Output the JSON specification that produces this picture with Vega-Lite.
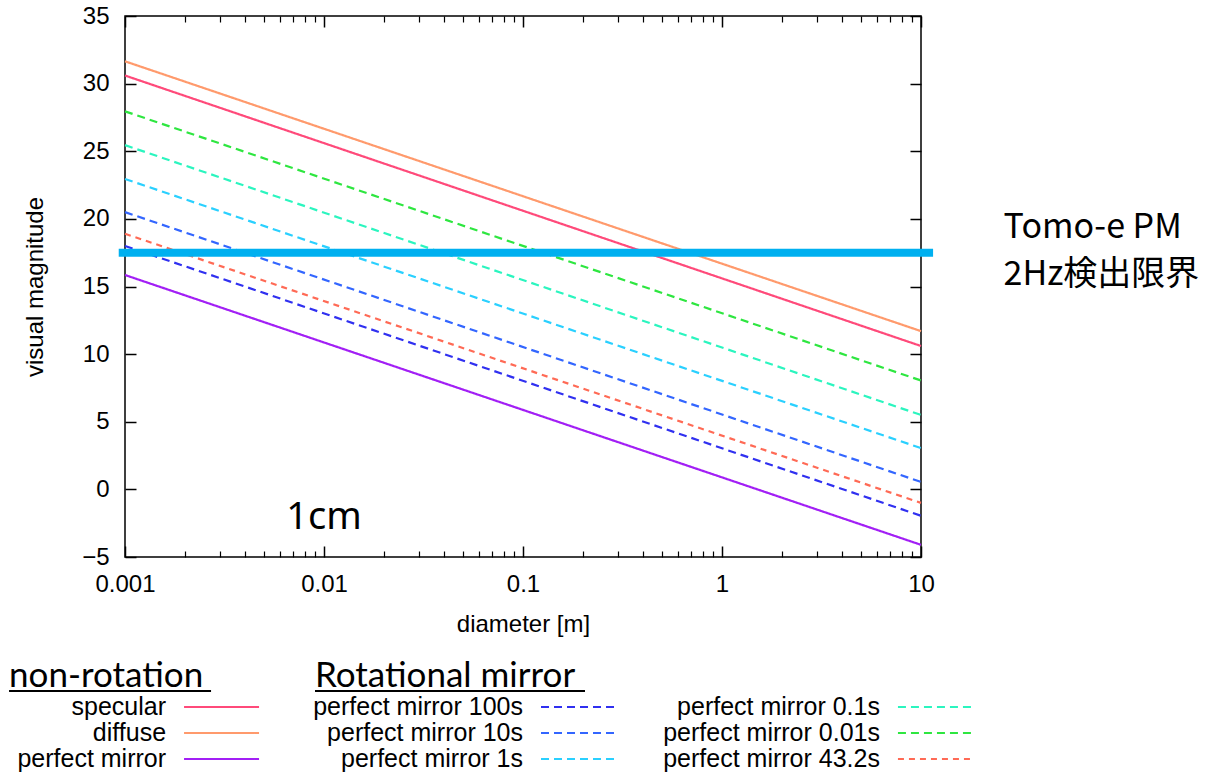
{
  "$schema": "https://vega.github.io/schema/vega-lite/v6.json",
  "autosize": {"type": "pad"},
  "padding": {"left": 8, "top": 3, "right": 0, "bottom": 0},
  "background": "white",
  "bounds": "flush",
  "spacing": 137,
  "config": {
    "font": "Liberation Sans",
    "view": {"stroke": "black", "strokeWidth": 1.5},
    "axis": {"labelColor": "black", "titleColor": "black", "tickColor": "black", "titleFontWeight": "normal", "grid": false, "domain": false}
  },
  "datasets": {
    "lines": [
      {"series": "specular", "d": 0.001, "mag": 30.6},
      {"series": "specular", "d": 10, "mag": 10.6},
      {"series": "diffuse", "d": 0.001, "mag": 31.65},
      {"series": "diffuse", "d": 10, "mag": 11.7},
      {"series": "perfect mirror", "d": 0.001, "mag": 15.85},
      {"series": "perfect mirror", "d": 10, "mag": -4.1},
      {"series": "perfect mirror 100s", "d": 0.001, "mag": 18.0},
      {"series": "perfect mirror 100s", "d": 10, "mag": -1.95},
      {"series": "perfect mirror 10s", "d": 0.001, "mag": 20.5},
      {"series": "perfect mirror 10s", "d": 10, "mag": 0.55},
      {"series": "perfect mirror 1s", "d": 0.001, "mag": 22.95},
      {"series": "perfect mirror 1s", "d": 10, "mag": 3.05},
      {"series": "perfect mirror 0.1s", "d": 0.001, "mag": 25.45},
      {"series": "perfect mirror 0.1s", "d": 10, "mag": 5.5},
      {"series": "perfect mirror 0.01s", "d": 0.001, "mag": 27.95},
      {"series": "perfect mirror 0.01s", "d": 10, "mag": 8.05},
      {"series": "perfect mirror 43.2s", "d": 0.001, "mag": 18.9},
      {"series": "perfect mirror 43.2s", "d": 10, "mag": -1.0}
    ],
    "legendItems": [
      {"col": "c1", "row": "r1", "series": "specular"},
      {"col": "c1", "row": "r2", "series": "diffuse"},
      {"col": "c1", "row": "r3", "series": "perfect mirror"},
      {"col": "c2", "row": "r1", "series": "perfect mirror 100s"},
      {"col": "c2", "row": "r2", "series": "perfect mirror 10s"},
      {"col": "c2", "row": "r3", "series": "perfect mirror 1s"},
      {"col": "c3", "row": "r1", "series": "perfect mirror 0.1s"},
      {"col": "c3", "row": "r2", "series": "perfect mirror 0.01s"},
      {"col": "c3", "row": "r3", "series": "perfect mirror 43.2s"}
    ]
  },
  "vconcat": [
    {
      "width": 796,
      "height": 541,
      "resolve": {"axis": {"x": "independent", "y": "independent"}},
      "layer": [
        {
          "data": {"name": "lines"},
          "mark": {"type": "line", "strokeWidth": 2.2},
          "encoding": {
            "x": {"field": "d", "type": "quantitative", "scale": {"type": "log", "domain": [0.001, 10], "nice": false},
              "axis": {"orient": "bottom", "values": [0.001, 0.01, 0.1, 1, 10], "ticks": false, "labelFontSize": 24, "labelPadding": 15, "labelFlush": false, "labelExpr": "datum.value >= 1 ? format(datum.value, 'd') : format(datum.value, '~g')", "title": "diameter [m]", "titleFontSize": 24, "titlePadding": 16}},
            "y": {"field": "mag", "type": "quantitative", "scale": {"domain": [-5, 35], "nice": false, "zero": false},
              "axis": {"orient": "left", "values": [-5, 0, 5, 10, 15, 20, 25, 30, 35], "ticks": false, "labelFontSize": 24, "labelPadding": 16, "title": "visual magnitude", "titleFontSize": 24, "titlePadding": 34}},
            "color": {"field": "series", "type": "nominal", "legend": null,
              "scale": {"domain": ["specular", "diffuse", "perfect mirror", "perfect mirror 100s", "perfect mirror 10s", "perfect mirror 1s", "perfect mirror 0.1s", "perfect mirror 0.01s", "perfect mirror 43.2s"],
                "range": ["#ff4a7a", "#ff9a6c", "#a21ff5", "#3030f0", "#3366ff", "#2ad0ff", "#2bf5bf", "#2ee640", "#ff6a55"]}},
            "strokeDash": {"field": "series", "type": "nominal", "legend": null,
              "scale": {"domain": ["specular", "diffuse", "perfect mirror", "perfect mirror 100s", "perfect mirror 10s", "perfect mirror 1s", "perfect mirror 0.1s", "perfect mirror 0.01s", "perfect mirror 43.2s"],
                "range": [[1, 0], [1, 0], [1, 0], [8, 5], [8, 5], [8, 5], [8, 5], [8, 5], [6, 5]]}}
          }
        },
        {
          "data": {"name": "lines"},
          "mark": {"type": "point", "opacity": 0},
          "encoding": {
            "x": {"field": "d", "type": "quantitative", "scale": {"type": "log", "domain": [0.001, 10], "nice": false},
              "axis": {"orient": "bottom", "values": [0.001, 0.01, 0.1, 1, 10], "labels": false, "tickSize": -11, "tickWidth": 1.5, "title": null}},
            "y": {"field": "mag", "type": "quantitative", "scale": {"domain": [-5, 35], "nice": false, "zero": false},
              "axis": {"orient": "left", "values": [-5, 0, 5, 10, 15, 20, 25, 30, 35], "labels": false, "tickSize": -11, "tickWidth": 1.5, "title": null}}
          }
        },
        {
          "data": {"name": "lines"},
          "mark": {"type": "point", "opacity": 0},
          "encoding": {
            "x": {"field": "d", "type": "quantitative", "scale": {"type": "log", "domain": [0.001, 10], "nice": false},
              "axis": {"orient": "top", "values": [0.001, 0.01, 0.1, 1, 10], "labels": false, "tickSize": -11, "tickWidth": 1.5, "title": null}},
            "y": {"field": "mag", "type": "quantitative", "scale": {"domain": [-5, 35], "nice": false, "zero": false},
              "axis": {"orient": "right", "values": [-5, 0, 5, 10, 15, 20, 25, 30, 35], "labels": false, "tickSize": -11, "tickWidth": 1.5, "title": null}}
          }
        },
        {
          "data": {"name": "lines"},
          "mark": {"type": "point", "opacity": 0},
          "encoding": {
            "x": {"field": "d", "type": "quantitative", "scale": {"type": "log", "domain": [0.001, 10], "nice": false},
              "axis": {"orient": "bottom", "values": [0.002, 0.003, 0.004, 0.005, 0.006, 0.007, 0.008, 0.009, 0.02, 0.03, 0.04, 0.05, 0.06, 0.07, 0.08, 0.09, 0.2, 0.3, 0.4, 0.5, 0.6, 0.7, 0.8, 0.9, 2, 3, 4, 5, 6, 7, 8, 9], "labels": false, "tickSize": -6, "tickWidth": 1.2, "title": null}},
            "y": {"field": "mag", "type": "quantitative", "scale": {"domain": [-5, 35], "nice": false, "zero": false}, "axis": null}
          }
        },
        {
          "data": {"name": "lines"},
          "mark": {"type": "point", "opacity": 0},
          "encoding": {
            "x": {"field": "d", "type": "quantitative", "scale": {"type": "log", "domain": [0.001, 10], "nice": false},
              "axis": {"orient": "top", "values": [0.002, 0.003, 0.004, 0.005, 0.006, 0.007, 0.008, 0.009, 0.02, 0.03, 0.04, 0.05, 0.06, 0.07, 0.08, 0.09, 0.2, 0.3, 0.4, 0.5, 0.6, 0.7, 0.8, 0.9, 2, 3, 4, 5, 6, 7, 8, 9], "labels": false, "tickSize": -6, "tickWidth": 1.2, "title": null}},
            "y": {"field": "mag", "type": "quantitative", "scale": {"domain": [-5, 35], "nice": false, "zero": false}, "axis": null}
          }
        },
        {
          "data": {"values": [{"d": 0.00093, "d2": 11.5, "mag": 17.5}]},
          "mark": {"type": "rule", "color": "#00b0f0", "strokeWidth": 8},
          "encoding": {
            "x": {"field": "d", "type": "quantitative", "axis": null},
            "x2": {"field": "d2"},
            "y": {"field": "mag", "type": "quantitative", "axis": null}
          }
        },
        {
          "data": {"values": [{"d": 26, "mag": 18.55, "txt": "Tomo-e PM\n2Hz検出限界"}]},
          "mark": {"type": "text", "align": "left", "baseline": "alphabetic", "font": "Noto Sans CJK JP", "fontSize": 34, "lineHeight": 47, "lineBreak": "\n", "color": "black"},
          "encoding": {
            "x": {"field": "d", "type": "quantitative", "axis": null},
            "y": {"field": "mag", "type": "quantitative", "axis": null},
            "text": {"field": "txt"}
          }
        },
        {
          "data": {"values": [{"d": 0.01, "mag": -2.9, "txt": "1cm"}]},
          "mark": {"type": "text", "align": "center", "baseline": "alphabetic", "font": "Noto Sans", "fontSize": 38, "color": "black"},
          "encoding": {
            "x": {"field": "d", "type": "quantitative", "axis": null},
            "y": {"field": "mag", "type": "quantitative", "axis": null},
            "text": {"field": "txt"}
          }
        }
      ]
    },
    {
      "width": 796,
      "height": 78,
      "view": {"stroke": null},
      "layer": [
        {
          "data": {"name": "legendItems"},
          "mark": {"type": "text", "align": "right", "baseline": "middle", "fontSize": 25, "color": "black"},
          "encoding": {
            "x": {"field": "col", "type": "nominal", "scale": {"type": "point", "padding": 0.115}, "axis": null},
            "y": {"field": "row", "type": "nominal", "scale": {"type": "point", "padding": 0.5}, "axis": null},
            "text": {"field": "series"}
          }
        },
        {
          "data": {"name": "legendItems"},
          "mark": {"type": "rule", "strokeWidth": 2.2, "xOffset": 18, "x2Offset": 93},
          "encoding": {
            "x": {"field": "col", "type": "nominal", "scale": {"type": "point", "padding": 0.115}, "axis": null},
            "x2": {"field": "col"},
            "y": {"field": "row", "type": "nominal", "scale": {"type": "point", "padding": 0.5}, "axis": null},
            "color": {"field": "series", "type": "nominal", "legend": null,
              "scale": {"domain": ["specular", "diffuse", "perfect mirror", "perfect mirror 100s", "perfect mirror 10s", "perfect mirror 1s", "perfect mirror 0.1s", "perfect mirror 0.01s", "perfect mirror 43.2s"],
                "range": ["#ff4a7a", "#ff9a6c", "#a21ff5", "#3030f0", "#3366ff", "#2ad0ff", "#2bf5bf", "#2ee640", "#ff6a55"]}},
            "strokeDash": {"field": "series", "type": "nominal", "legend": null,
              "scale": {"domain": ["specular", "diffuse", "perfect mirror", "perfect mirror 100s", "perfect mirror 10s", "perfect mirror 1s", "perfect mirror 0.1s", "perfect mirror 0.01s", "perfect mirror 43.2s"],
                "range": [[1, 0], [1, 0], [1, 0], [8, 5], [8, 5], [8, 5], [8, 5], [8, 5], [6, 5]]}}
          }
        },
        {
          "data": {"values": [{"col": "c1", "row": "r1", "h": "non-rotation"}]},
          "layer": [
            {
              "mark": {"type": "text", "align": "left", "baseline": "alphabetic", "font": "Lato", "fontSize": 35, "dx": -157, "dy": -20, "color": "black"},
              "encoding": {
                "x": {"field": "col", "type": "nominal", "scale": {"type": "point", "padding": 0.115}, "axis": null},
                "y": {"field": "row", "type": "nominal", "scale": {"type": "point", "padding": 0.5}, "axis": null},
                "text": {"field": "h"}
              }
            },
            {
              "mark": {"type": "rule", "color": "black", "strokeWidth": 1.8, "xOffset": -157, "x2Offset": 45, "yOffset": -16},
              "encoding": {
                "x": {"field": "col", "type": "nominal", "scale": {"type": "point", "padding": 0.115}, "axis": null},
                "x2": {"field": "col"},
                "y": {"field": "row", "type": "nominal", "scale": {"type": "point", "padding": 0.5}, "axis": null}
              }
            }
          ]
        },
        {
          "data": {"values": [{"col": "c2", "row": "r1", "h": "Rotational mirror"}]},
          "layer": [
            {
              "mark": {"type": "text", "align": "left", "baseline": "alphabetic", "font": "Lato", "fontSize": 35, "dx": -208, "dy": -20, "color": "black"},
              "encoding": {
                "x": {"field": "col", "type": "nominal", "scale": {"type": "point", "padding": 0.115}, "axis": null},
                "y": {"field": "row", "type": "nominal", "scale": {"type": "point", "padding": 0.5}, "axis": null},
                "text": {"field": "h"}
              }
            },
            {
              "mark": {"type": "rule", "color": "black", "strokeWidth": 1.8, "xOffset": -208, "x2Offset": 62, "yOffset": -16},
              "encoding": {
                "x": {"field": "col", "type": "nominal", "scale": {"type": "point", "padding": 0.115}, "axis": null},
                "x2": {"field": "col"},
                "y": {"field": "row", "type": "nominal", "scale": {"type": "point", "padding": 0.5}, "axis": null}
              }
            }
          ]
        }
      ]
    }
  ]
}
